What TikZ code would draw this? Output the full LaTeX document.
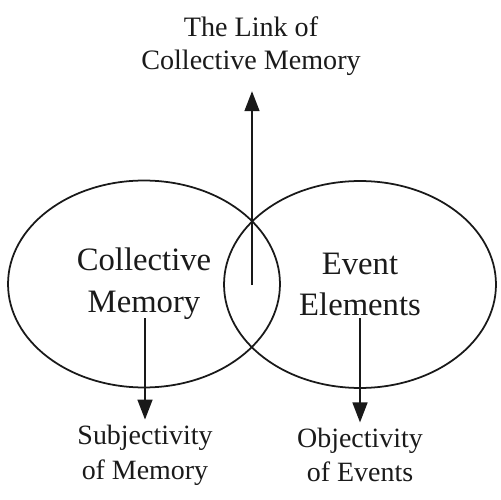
\documentclass[tikz,border=0pt]{standalone}
\usepackage{fontspec}
\setmainfont{Liberation Serif}
\usetikzlibrary{shapes.geometric,arrows.meta}
\definecolor{txt}{HTML}{1A1A1A}
\begin{document}
\begin{tikzpicture}[x=0.02cm,y=-0.02cm,
  venn/.style={draw=black!90, line width=1pt, ellipse, inner sep=0pt,
    minimum width=5.44cm, minimum height=4.14cm, align=center,
    font=\fontsize{18.6}{23.8}\selectfont, text=txt},
  lbl/.style={align=center, inner sep=0pt, text=txt},
  arr/.style={-{Triangle[length=0.4cm,width=0.3cm]}, line width=0.9pt, draw=black!90}]
\useasboundingbox (0,0) rectangle (500,500);
\node[venn] (cm) at (144,284) {Collective\\Memory};
\node[venn] (ee) at (360,284.5) {Event\\Elements};
\node[lbl, font=\fontsize{16}{18.7}\selectfont] (link) at (251,46.5) {The Link of\\Collective Memory};
\node[lbl, font=\fontsize{15.9}{19.8}\selectfont] (subj) at (145,455) {Subjectivity\\of Memory};
\node[lbl, font=\fontsize{15.9}{19.8}\selectfont] (obj) at (360,455) {Objectivity\\of Events};
\coordinate (s0) at (252,285);
\coordinate (s1) at (145,318);
\coordinate (s2) at (360,318);
\draw[arr, shorten >=0.3cm] (s0) -- (s0 |- link.south);
\draw[arr, shorten >=0.1cm] (s1) -- (subj.north);
\draw[arr, shorten >=0.1cm] (s2) -- (obj.north);
\end{tikzpicture}
\end{document}
